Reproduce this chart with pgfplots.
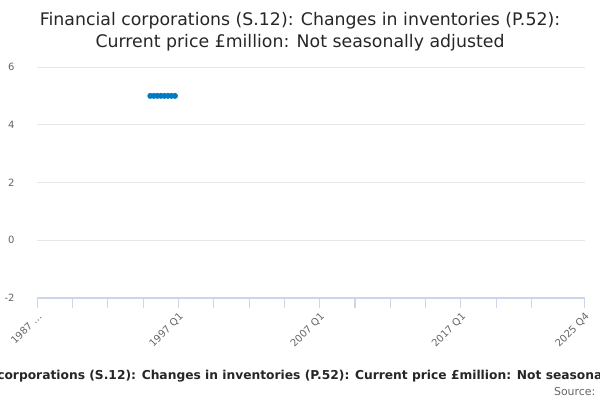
\documentclass[border=0pt]{standalone}
\usepackage{pgfplots}
\pgfplotsset{compat=1.18}
\usepackage{fontspec}
\setmainfont{DejaVu Sans}
\definecolor{ticktxt}{HTML}{666666}
\definecolor{axcol}{HTML}{CCD6EB}
\definecolor{gridcol}{HTML}{E6E6E6}
\definecolor{ons}{HTML}{007AC3}
\begin{document}
\begin{tikzpicture}[x=0.75pt,y=0.75pt]
\clip (0,0) rectangle (600,400);
\path[use as bounding box] (0,0) rectangle (600,400);
\begin{axis}[
  at={(37.3*0.75pt,102*0.75pt)}, anchor=south west,
  scale only axis, width=410.4pt, height=173.25pt,
  xmin=0, xmax=155, ymin=-2, ymax=6,
  axis y line*=left, axis x line*=bottom,
  y axis line style={draw=none},
  x axis line style={draw=axcol, line width=0.8pt},
  ytick={-2,0,2,4,6},
  ymajorgrids, grid style={gridcol, line width=0.6pt},
  major y tick style={draw=none},
  xtick={0,40,80,120,155},
  minor xtick={10,20,30,50,60,70,90,100,110,130,140},
  xticklabels={1987 \dots,1997 Q1,2007 Q1,2017 Q1,2025 Q4},
  x tick style={draw=axcol, line width=0.8pt},
  major tick length=7.5pt, minor tick length=7.5pt,
  tick align=outside,
  xtick pos=bottom,
  xticklabel style={rotate=45, anchor=north east, font=\fontsize{7.5}{9}\selectfont, text=ticktxt, inner sep=2pt},
  yticklabel style={font=\fontsize{7.5}{9}\selectfont, text=ticktxt, xshift=-6pt},
  /pgf/number format/assume math mode=true,
  clip=false,
]
\addplot[color=ons, line width=1.2pt, mark=*, mark size=1.6pt, mark options={draw=ons, fill=ons}]
coordinates {(32,5) (33,5) (34,5) (35,5) (36,5) (37,5) (38,5) (39,5)};
\end{axis}
\node[font=\fontsize{13}{16.5}\selectfont, text=black!85, align=center] at (300,368)
  {Financial corporations (S.12): Changes in inventories (P.52):\\Current price £million: Not seasonally adjusted};
\node[font=\bfseries\fontsize{9.2}{11}\selectfont, text=black!85] at (307,24)
  {Financial corporations (S.12): Changes in inventories (P.52): Current price £million: Not seasonally adjusted};
\node[font=\fontsize{8.2}{10}\selectfont, text=ticktxt, anchor=east] at (600,8) {Source:};
\end{tikzpicture}
\end{document}
